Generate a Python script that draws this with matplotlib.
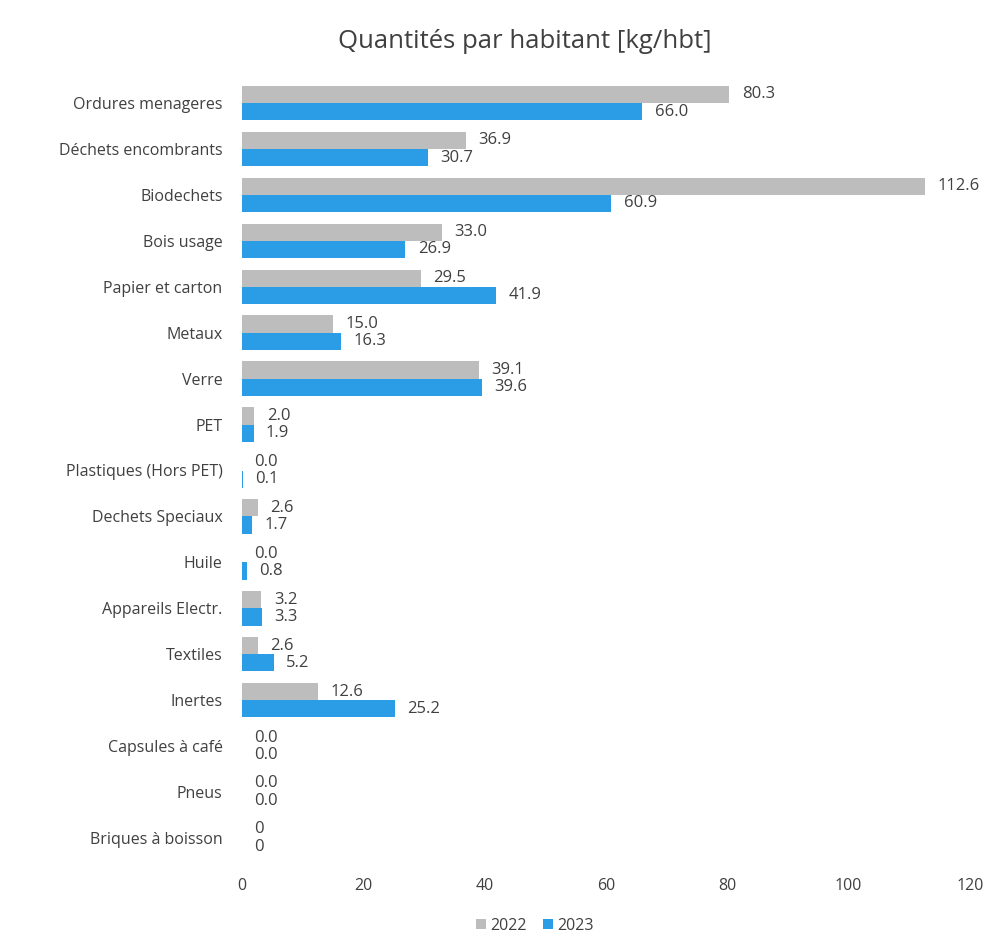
import matplotlib.pyplot as plt
import numpy as np

plt.rcParams['font.family'] = ['Open Sans', 'DejaVu Sans']

CATEGORIES = ['Ordures menageres', 'Déchets encombrants', 'Biodechets',
              'Bois usage', 'Papier et carton', 'Metaux', 'Verre', 'PET',
              'Plastiques (Hors PET)', 'Dechets Speciaux', 'Huile',
              'Appareils Electr.', 'Textiles', 'Inertes', 'Capsules à café',
              'Pneus', 'Briques à boisson']

VALUES_2022 = [80.3, 36.9, 112.6, 33.0, 29.5, 15.0, 39.1, 2.0, 0.0, 2.6,
               0.0, 3.2, 2.6, 12.6, 0.0, 0.0, 0]
VALUES_2023 = [66.0, 30.7, 60.9, 26.9, 41.9, 16.3, 39.6, 1.9, 0.1, 1.7,
               0.8, 3.3, 5.2, 25.2, 0.0, 0.0, 0]
# last row shows integer labels
DECIMALS = [1] * 16 + [0]

GREY = '#bdbdbd'
BLUE = '#2b9de6'
TEXT = '#404040'


def fmt(v, d):
    return f'{v:.{d}f}'


def main():
    fig = plt.figure(figsize=(10.04, 9.43), dpi=100)
    ax = fig.add_axes([242 / 1004, 1 - 861 / 943, 728 / 1004, 781 / 943])

    y = np.arange(len(CATEGORIES))
    h = 0.375
    ax.barh(y - h / 2, VALUES_2022, height=h, color=GREY, label='2022')
    ax.barh(y + h / 2, VALUES_2023, height=h, color=BLUE, label='2023')

    # value labels
    for i in range(len(CATEGORIES)):
        ax.annotate(fmt(VALUES_2022[i], DECIMALS[i]), (VALUES_2022[i], y[i] - h / 2),
                    xytext=(9, 0), textcoords='offset points', va='center',
                    fontsize=12, color=TEXT)
        ax.annotate(fmt(VALUES_2023[i], DECIMALS[i]), (VALUES_2023[i], y[i] + h / 2),
                    xytext=(9, 0), textcoords='offset points', va='center',
                    fontsize=12, color=TEXT)

    ax.set_ylim(len(CATEGORIES) - 0.5, -0.5)
    ax.set_xlim(0, 120)
    ax.set_xticks(range(0, 121, 20))
    ax.set_yticks(y)
    ax.set_yticklabels(CATEGORIES)
    ax.tick_params(axis='both', length=0, colors=TEXT)
    ax.tick_params(axis='x', pad=12, labelsize=11.5)
    ax.tick_params(axis='y', pad=14, labelsize=11.5)
    for s in ax.spines.values():
        s.set_visible(False)

    fig.suptitle('Quantités par habitant [kg/hbt]', x=525 / 1004, y=1 - 42 / 943,
                 va='center', fontsize=18.5, color=TEXT)

    fig.legend(loc='center', bbox_to_anchor=(535 / 1004, 1 - 926 / 943),
               ncol=2, frameon=False, fontsize=11.5, handlelength=0.6,
               handleheight=0.6, handletextpad=0.3, columnspacing=1.0,
               labelcolor=TEXT)

    fig.savefig('out.png', dpi=100)


if __name__ == '__main__':
    main()
